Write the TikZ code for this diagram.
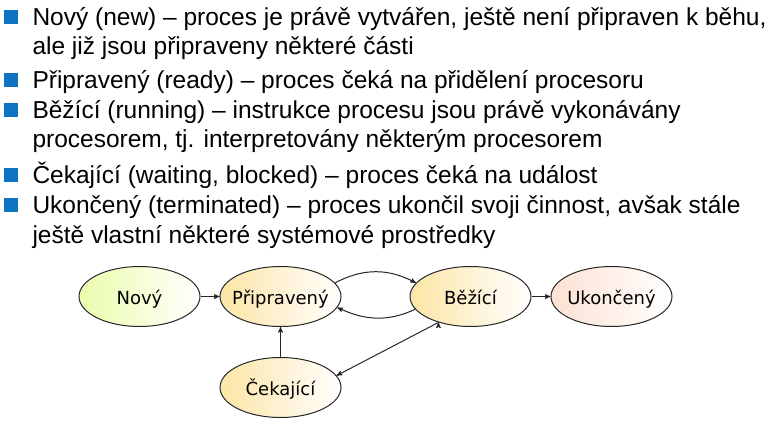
\documentclass[tikz,border=0pt]{standalone}
\usepackage{fontspec}
\setmainfont{Liberation Sans}
\newfontfamily\stavfont{DejaVu Sans}
\usetikzlibrary{arrows,shapes.geometric,positioning}

\definecolor{odrazka}{RGB}{12,116,192}
\definecolor{zelena}{RGB}{234,252,172}
\definecolor{zluta}{RGB}{253,229,165}
\definecolor{ruzova}{RGB}{253,225,211}

\begin{document}
\begin{tikzpicture}[x=1pt,y=-1pt,>=stealth',line width=1pt,node distance=19pt]
	\tikzstyle{radek}=[anchor=base west,inner sep=0pt,font=\fontsize{24.5}{28}\selectfont]
	\tikzstyle{odr}=[fill=odrazka,minimum size=14pt,inner sep=0pt]
	\tikzstyle{stav}=[ellipse,draw=black!85,inner xsep=-8pt,text height=18pt,text depth=2pt,
	                  minimum width=121pt,minimum height=60pt,
	                  right color=white,font=\stavfont\fontsize{18}{20}\selectfont]
	\useasboundingbox (0,0) rectangle (777,431);

	% odrazky a text
	\node[odr] (o1) at (11,17)  {};
	\node[odr] (o2) at (11,80)  {};
	\node[odr] (o3) at (11,110) {};
	\node[odr] (o4) at (11,175) {};
	\node[odr] (o5) at (11,205) {};

	\node[radek] (r1) at (32,25)  {Nový (new) – proces je právě vytvářen, ještě není připraven k běhu,};
	\node[radek] (r2) at (32,54.5){ale již jsou připraveny některé části};
	\node[radek] (r3) at (32,88)  {Připravený (ready) – proces čeká na přidělení procesoru};
	\node[radek] (r4) at (32,118) {Běžící (running) – instrukce procesu jsou právě vykonávány};
	\node[radek] (r5) at (32,147) {procesorem, tj. interpretovány některým procesorem};
	\node[radek] (r6) at (32,183) {Čekající (waiting, blocked) – proces čeká na událost};
	\node[radek] (r7) at (32,213) {Ukončený (terminated) – proces ukončil svoji činnost, avšak stále};
	\node[radek] (r8) at (32,243) {ještě vlastní některé systémové prostředky};

	% stavy procesu
	\node[stav,left color=zelena] (nov) at (139.5,296.5) {Nový};
	\node[stav,left color=zluta]  (pri) [right=of nov]      {Připravený};
	\node[stav,left color=zluta]  (bez) [right=68pt of pri] {Běžící};
	\node[stav,left color=ruzova] (uko) [right=of bez]      {Ukončený};
	\node[stav,left color=zluta]  (cek) [below=30pt of pri] {Čekající};

	\path[->,draw=black!85]
		(nov) edge (pri)
		(pri.14) edge [out=28,in=152] (bez.166)
		(bez.193) edge [out=205,in=-25] (pri.349)
		(bez.219) edge (cek.12)
		(cek) edge (pri)
		(bez) edge (uko);
\end{tikzpicture}
\end{document}
